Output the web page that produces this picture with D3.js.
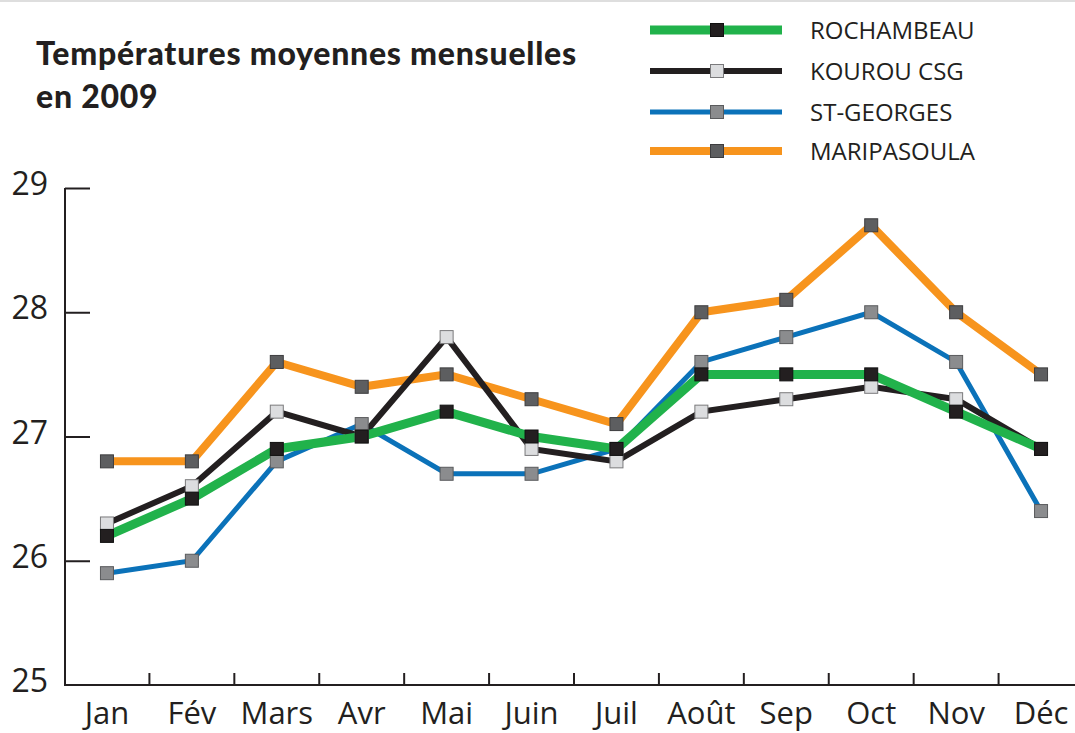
<!DOCTYPE html>
<html>
<head>
<meta charset="utf-8">
<script src="https://cdn.jsdelivr.net/npm/d3@7"></script>
<style>
  html, body { margin: 0; padding: 0; background: #fff; }
  svg { display: block; }
</style>
</head>
<body>
<svg id="chart" width="1075" height="733"></svg>
<script>
const months = ["Jan", "Fév", "Mars", "Avr", "Mai", "Juin", "Juil", "Août", "Sep", "Oct", "Nov", "Déc"];
const yTicks = [25, 26, 27, 28, 29];
const rochambeau = [26.2, 26.5, 26.9, 27.0, 27.2, 27.0, 26.9, 27.5, 27.5, 27.5, 27.2, 26.9];
const kourou = [26.3, 26.6, 27.2, 27.0, 27.8, 26.9, 26.8, 27.2, 27.3, 27.4, 27.3, 26.9];
const stGeorges = [25.9, 26.0, 26.8, 27.1, 26.7, 26.7, 26.9, 27.6, 27.8, 28.0, 27.6, 26.4];
const maripasoula = [26.8, 26.8, 27.6, 27.4, 27.5, 27.3, 27.1, 28.0, 28.1, 28.7, 28.0, 27.5];
const seriesNames = ["ROCHAMBEAU", "KOUROU CSG", "ST-GEORGES", "MARIPASOULA"];

const ink = "#231f20";
const series = [
  { name: seriesNames[3], values: maripasoula, color: "#f7941d", width: 8, fill: "#5d5e60", stroke: "#3d3d3f" },
  { name: seriesNames[2], values: stGeorges, color: "#0b72b9", width: 5, fill: "#8b8c8e", stroke: "#5a5b5d" },
  { name: seriesNames[1], values: kourou, color: ink, width: 6, fill: "#dcdddf", stroke: "#7a7a7c" },
  { name: seriesNames[0], values: rochambeau, color: "#21b24b", width: 9, fill: ink, stroke: "#111" }
];

const svg = d3.select("#chart");

// top light border
svg.append("rect").attr("x", 0).attr("y", 0).attr("width", 1075).attr("height", 2).attr("fill", "#dedede");

const x = d3.scaleBand().domain(months).range([64.5, 1083.5]).padding(0);
const y = d3.scaleLinear().domain([25, 29]).range([685, 188]);
const cx = m => x(m) + x.bandwidth() / 2;

// Title
const title = svg.append("text").attr("font-family", "Lato, 'Open Sans', sans-serif")
  .attr("font-weight", 900).attr("font-size", 32).attr("letter-spacing", 0.75).attr("fill", ink);
title.append("tspan").attr("x", 36).attr("y", 65).text("Températures moyennes mensuelles");
title.append("tspan").attr("x", 36).attr("y", 108).text("en 2009");

// Axes
const axisG = svg.append("g");
axisG.append("line").attr("x1", 65).attr("x2", 65).attr("y1", y(29)).attr("y2", y(25) + 1)
  .attr("stroke", ink).attr("stroke-width", 2);
axisG.append("line").attr("x1", 64).attr("x2", 1075).attr("y1", y(25)).attr("y2", y(25))
  .attr("stroke", ink).attr("stroke-width", 2);

const yAxis = d3.axisRight(y).tickValues(yTicks.filter(t => t > 25)).tickSize(25).tickFormat("");
const yg = svg.append("g").attr("transform", "translate(65,0)").call(yAxis);
yg.select(".domain").remove();
yg.selectAll(".tick line").attr("stroke", ink).attr("stroke-width", 2);

svg.append("g").selectAll("text").data(yTicks).join("text")
  .attr("x", 48).attr("y", d => y(d) - 4).attr("dy", "0.35em").attr("text-anchor", "end")
  .attr("font-family", "'Open Sans', sans-serif").attr("font-size", 32)
  .attr("fill", ink).text(d => d);

// x ticks at band boundaries
svg.append("g").selectAll("line").data(months.slice(1)).join("line")
  .attr("x1", d => x(d)).attr("x2", d => x(d)).attr("y1", y(25)).attr("y2", y(25) - 12)
  .attr("stroke", ink).attr("stroke-width", 2);

const xAxis = d3.axisBottom(x).tickSize(0).tickPadding(0);
const xg = svg.append("g").attr("transform", `translate(0,${y(25)})`).call(xAxis);
xg.select(".domain").remove();
xg.selectAll(".tick text").attr("y", 39).attr("dy", 0)
  .attr("font-family", "'Open Sans', sans-serif").attr("font-size", 31)
  .attr("fill", ink);

// Lines
const line = d3.line().x((d, i) => cx(months[i])).y(d => y(d));
const linesG = svg.append("g");
series.forEach(s => {
  linesG.append("path").datum(s.values).attr("d", line).attr("fill", "none")
    .attr("stroke", s.color).attr("stroke-width", s.width).attr("stroke-linejoin", "miter");
});
const ms = 13;
series.forEach(s => {
  svg.append("g").selectAll("rect").data(s.values).join("rect")
    .attr("x", (d, i) => cx(months[i]) - ms / 2).attr("y", d => y(d) - ms / 2)
    .attr("width", ms).attr("height", ms).attr("fill", s.fill)
    .attr("stroke", s.stroke).attr("stroke-width", 1);
});

// Legend
const legendOrder = [series[3], series[2], series[1], series[0]];
const legRows = [30, 71, 112, 151];
const leg = svg.append("g");
legendOrder.forEach((s, i) => {
  const ly = legRows[i];
  leg.append("line").attr("x1", 650).attr("x2", 782).attr("y1", ly).attr("y2", ly)
    .attr("stroke", s.color).attr("stroke-width", s.width);
  leg.append("rect").attr("x", 717 - ms / 2).attr("y", ly - ms / 2).attr("width", ms).attr("height", ms)
    .attr("fill", s.fill).attr("stroke", s.stroke).attr("stroke-width", 1);
  leg.append("text").attr("x", 810).attr("y", ly).attr("dy", "0.36em")
    .attr("font-family", "'Open Sans', sans-serif").attr("font-size", 24)
    .attr("fill", ink).text(s.name);
});
</script>
</body>
</html>
